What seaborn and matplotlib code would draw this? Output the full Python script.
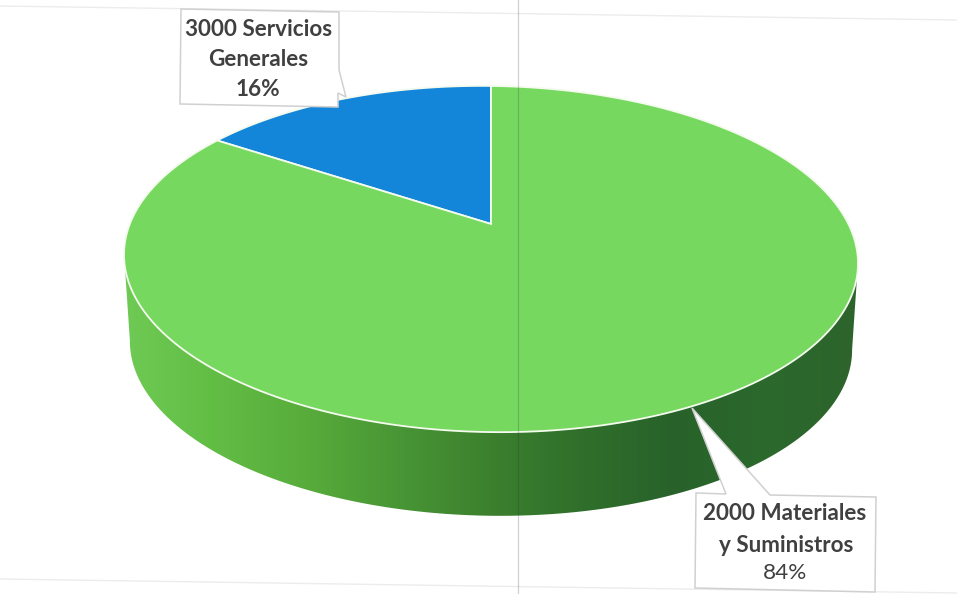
import numpy as np
import matplotlib
matplotlib.use("Agg")
import matplotlib.pyplot as plt
from matplotlib.colors import LinearSegmentedColormap
from matplotlib.patches import Polygon
from matplotlib.path import Path
from matplotlib.transforms import Transform
import seaborn as sns

categories = ["3000 Servicios\nGenerales", "2000 Materiales\ny Suministros"]
shares = [16, 84]
top_colors = ["#1486d9", "#77d860"]
side_stops = ["#6fcb55", "#62bd45", "#58ac3b", "#489635", "#3c802e", "#2f6f2b", "#28622a", "#2b692d", "#2d642b"]

sns.set_theme(style="white")
plt.rcParams["font.family"] = ["Lato", "DejaVu Sans"]

W, H = 957, 594
CX, AY = 491.0, 224.0
RX, RY, K, SHEAR = 359.4, 166.0, 0.2023, 0.012


def project(u, v, scale=1.0, dy=0.0):
    w = 1 + K * v
    x = RX * scale * u / w
    y = -RY * scale * v / w
    return CX + x, AY + dy + y + SHEAR * x


class Tilted(Transform):
    """Lays the unit pie on its side, with perspective, in pixel coordinates."""
    input_dims = output_dims = 2
    has_inverted = False

    def transform_non_affine(self, values):
        values = np.asarray(values)
        x, y = project(values[:, 0], values[:, 1])
        return np.column_stack([x, y])

    def transform_path_non_affine(self, path):
        fine = Path(path.vertices * 2000, path.codes).to_polygons(closed_only=False)[0] / 2000
        return Path(self.transform_non_affine(fine), closed=True)


fig = plt.figure(figsize=(W / 100, H / 100), dpi=100, facecolor="white")
ax = fig.add_axes([0, 0, 1, 1])

wedges, _ = ax.pie(shares, colors=top_colors, startangle=90, counterclock=True,
                   wedgeprops={"edgecolor": "#f4fbee", "linewidth": 1.3, "zorder": 3})
tilt = Tilted() + ax.transData
for wedge in wedges:
    wedge.set_transform(tilt)

# Rim of the disc, shaded left to right
t_low = np.radians(np.linspace(191.5, 348.5, 200))
lower = project(np.cos(t_low), np.sin(t_low), scale=0.984, dy=87)
upper = project(np.cos(t_low[::-1]), np.sin(t_low[::-1]))
rim = Polygon(np.column_stack([np.r_[lower[0], upper[0]], np.r_[lower[1], upper[1]]]),
              closed=True, facecolor="none", edgecolor="none", transform=ax.transData)
ax.add_patch(rim)
cmap = LinearSegmentedColormap.from_list("rim", side_stops)
shade = ax.imshow(np.linspace(0, 1, 512)[None, :], cmap=cmap, aspect="auto",
                  extent=(120, 860, 530, 240), zorder=1)
shade.set_clip_path(rim)

ax.set_aspect("auto")
ax.set_xlim(0, W)
ax.set_ylim(H, 0)
ax.axis("off")

# Chart frame and fold of the scanned page
ax.plot([0, W], [6, 20], color="#ececec", lw=1, zorder=2)
ax.plot([0, W], [579, 593], color="#ececec", lw=1, zorder=2)
ax.plot([518, 518], [0, H], color="#2a2a50", alpha=0.22, lw=0.9, zorder=4)

# Callout boxes
box_style = dict(closed=True, facecolor="white", edgecolor="#d0d0d0", linewidth=1.1, zorder=5)
ax.add_patch(Polygon([(181, 9), (339, 12), (339, 70), (346, 97), (338, 93), (338, 107), (180, 104)], **box_style))
ax.add_patch(Polygon([(696, 493), (726, 494), (692, 408), (770, 495), (876, 497), (875, 592), (695, 588)], **box_style))

text_style = dict(ha="center", va="center", color="#404040", fontsize=16.2, zorder=6)
blue_lines = categories[0].split("\n")
ax.text(259, 30, blue_lines[0], fontweight="bold", **text_style)
ax.text(258, 60, blue_lines[1], fontweight="bold", **text_style)
ax.text(258, 89, f"{shares[0]}%", fontweight="bold", **text_style)
green_lines = categories[1].split("\n")
ax.text(785, 514, green_lines[0], fontweight="bold", **text_style)
ax.text(786, 545, green_lines[1], fontweight="bold", **text_style)
ax.text(785, 573, f"{shares[1]}%", **text_style)

fig.savefig("out.png", dpi=100)
